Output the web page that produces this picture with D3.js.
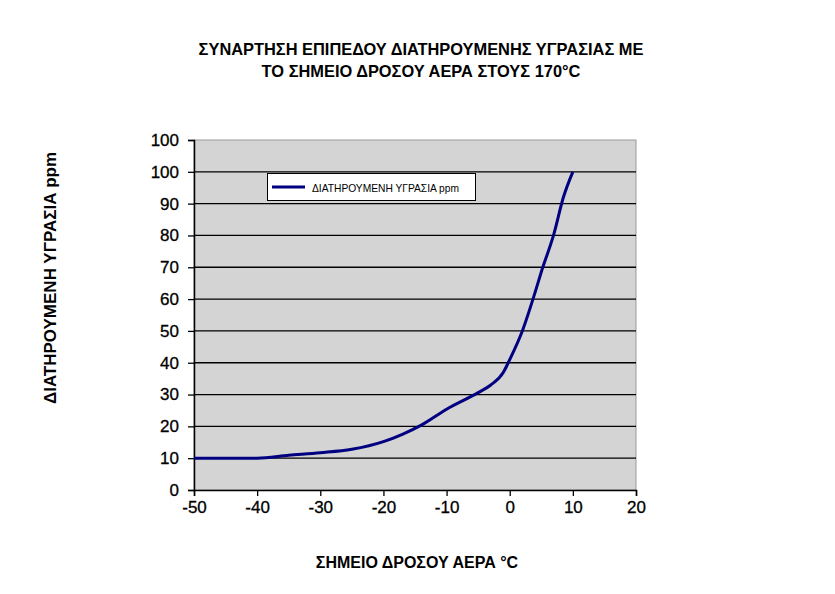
<!DOCTYPE html>
<html>
<head>
<meta charset="utf-8">
<script src="https://cdn.jsdelivr.net/npm/d3@7"></script>
<style>
  html, body { margin: 0; padding: 0; background: #fff; }
  svg { display: block; }
</style>
</head>
<body>
<svg id="chart" width="835" height="594"></svg>
<script>
// ---- data ----
const dewPoint = [-50, -40, -35, -30, -25, -20, -17, -14, -10, -5, -3, -1, 0, 2, 4, 5, 7, 8.5, 10];
const moisture = [10, 10, 10.9, 11.7, 12.8, 15.2, 17.5, 20.4, 25.4, 30.6, 33, 37, 41, 50, 62, 68.5, 80.5, 92, 100];
const xTicks = [-50, -40, -30, -20, -10, 0, 10, 20];
const yTicks = [0, 10, 20, 30, 40, 50, 60, 70, 80, 90, 100, 110];
const yTickLabels = ["0", "10", "20", "30", "40", "50", "60", "70", "80", "90", "100", "100"];
const titleLines = ["ΣΥΝΑΡΤΗΣΗ ΕΠΙΠΕΔΟΥ ΔΙΑΤΗΡΟΥΜΕΝΗΣ ΥΓΡΑΣΙΑΣ ΜΕ", "ΤΟ ΣΗΜΕΙΟ ΔΡΟΣΟΥ ΑΕΡΑ ΣΤΟΥΣ 170°C"];
const xTitle = "ΣΗΜΕΙΟ ΔΡΟΣΟΥ ΑΕΡΑ °C";
const yTitle = "ΔΙΑΤΗΡΟΥΜΕΝΗ ΥΓΡΑΣΙΑ ppm";
const seriesName = "ΔΙΑΤΗΡΟΥΜΕΝΗ ΥΓΡΑΣΙΑ ppm";

const data = dewPoint.map((d, i) => ({ x: d, y: moisture[i] }));

const svg = d3.select("#chart");
const pLeft = 194, pRight = 636, pTop = 140, pBottom = 490;
const font = "'Liberation Sans', Arial, sans-serif";

const x = d3.scaleLinear().domain([-50, 20]).range([pLeft, pRight]);
const y = d3.scaleLinear().domain([0, 110]).range([pBottom, pTop]);

// plot area
svg.append("rect")
  .attr("x", pLeft).attr("y", pTop)
  .attr("width", pRight - pLeft).attr("height", pBottom - pTop)
  .attr("fill", "#d4d4d4").attr("stroke", "#9a9a9a").attr("stroke-width", 1);

// gridlines
svg.append("g").selectAll("line")
  .data(yTicks.filter(t => t > 0 && t < 110))
  .join("line")
  .attr("x1", pLeft).attr("x2", pRight)
  .attr("y1", d => y(d)).attr("y2", d => y(d))
  .attr("stroke", "#000").attr("stroke-width", 1.3);

// axes
const xAxis = svg.append("g")
  .attr("transform", `translate(0,${pBottom})`)
  .call(d3.axisBottom(x).tickValues(xTicks).tickSize(6).tickPadding(5).tickFormat(d3.format("d")));
const yAxis = svg.append("g")
  .attr("transform", `translate(${pLeft},0)`)
  .call(d3.axisLeft(y).tickValues(yTicks).tickSize(6).tickPadding(9)
    .tickFormat((d, i) => yTickLabels[i]));

[xAxis, yAxis].forEach(g => {
  g.select(".domain").attr("stroke", "#000").attr("stroke-width", 1.5);
  g.selectAll(".tick line").attr("stroke", "#000").attr("stroke-width", 1.3);
  g.selectAll("text").attr("fill", "#000")
    .style("font-family", font).style("font-size", "17px")
    .attr("stroke", "#000").attr("stroke-width", 0.3);
});
xAxis.selectAll("text").text(d => d < 0 ? "-" + Math.abs(d) : d);

// line
svg.append("path")
  .datum(data)
  .attr("fill", "none")
  .attr("stroke", "#000080")
  .attr("stroke-width", 3)
  .attr("stroke-linejoin", "round")
  .attr("d", d3.line().x(d => x(d.x)).y(d => y(d.y)).curve(d3.curveMonotoneX));

// legend
const lg = svg.append("g");
lg.append("rect").attr("x", 267.5).attr("y", 173.5).attr("width", 208).attr("height", 27)
  .attr("fill", "#fff").attr("stroke", "#000").attr("stroke-width", 1);
lg.append("line").attr("x1", 272).attr("x2", 305).attr("y1", 187).attr("y2", 187)
  .attr("stroke", "#000080").attr("stroke-width", 3);
lg.append("text").attr("x", 312).attr("y", 191.5)
  .attr("textLength", 147).attr("lengthAdjust", "spacingAndGlyphs")
  .style("font-family", font).style("font-size", "11.5px").text(seriesName);

// title
svg.append("g").selectAll("text").data(titleLines).join("text")
  .attr("x", 421).attr("y", (d, i) => 55 + i * 22.3)
  .attr("text-anchor", "middle")
  .style("font-family", font).style("font-size", "16.4px").style("font-weight", "bold")
  .text(d => d);

// axis titles
svg.append("text")
  .attr("x", 417).attr("y", 568)
  .attr("text-anchor", "middle")
  .style("font-family", font).style("font-size", "16px").style("font-weight", "bold")
  .text(xTitle);
svg.append("text")
  .attr("transform", "translate(56,278) rotate(-90)")
  .attr("text-anchor", "middle")
  .style("font-family", font).style("font-size", "17px").style("font-weight", "bold")
  .text(yTitle);
</script>
</body>
</html>
